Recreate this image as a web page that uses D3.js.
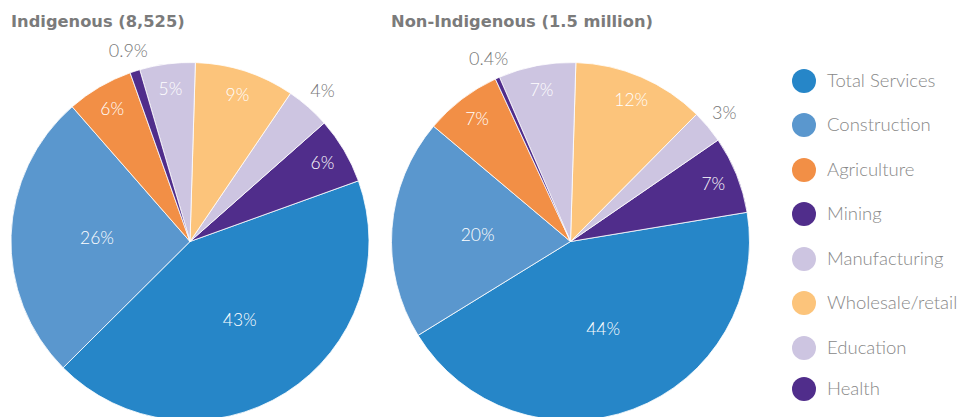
<!DOCTYPE html>
<html>
<head>
<meta charset="utf-8">
<script src="https://cdn.jsdelivr.net/npm/d3@7"></script>
<style>
  html, body { margin: 0; padding: 0; background: #fff; }
  svg { display: block; overflow: hidden; }
</style>
</head>
<body>
<div class="chart"></div>
<script>
const WIDTH = 959;
const HEIGHT = 417;
const RADIUS = 179;

// legend order
var categories = ["Total Services", "Construction", "Agriculture", "Mining",
                  "Manufacturing", "Wholesale/retail", "Education", "Health"];
var colors = ["#2686c8", "#5a97ce", "#f28f46", "#502d8b",
              "#cdc5e1", "#fcc47b", "#cdc5e1", "#502d8b"];

// order of slices clockwise from 12 o'clock
var sliceOrder = ["Wholesale/retail", "Manufacturing", "Mining", "Total Services",
                  "Construction", "Agriculture", "Health", "Education"];

var indigenous = [43, 26, 6, 6, 4, 9, 5, 0.9];
var nonIndigenous = [44, 20, 7, 7, 3, 12, 7, 0.4];

var titles = ["Indigenous (8,525)", "Non-Indigenous (1.5 million)"];

var translate = function (x, y) {
    return "translate(" + x + "," + y + ")";
};

var fmt = function (v) {
    return v < 1 ? v.toFixed(1) + "%" : Math.round(v) + "%";
};

var svg = d3.select('.chart').append('svg')
    .attr('width', WIDTH)
    .attr('height', HEIGHT);

var color = d3.scaleOrdinal().domain(categories).range(colors);

var pie = d3.pie()
    .sort(function (a, b) { return sliceOrder.indexOf(a.name) - sliceOrder.indexOf(b.name); })
    .value(function (d) { return d.value; })
    .startAngle(0.03)
    .endAngle(0.03 + 2 * Math.PI);

var arc = d3.arc().outerRadius(RADIUS).innerRadius(0);
var bigLabel = d3.arc().outerRadius(RADIUS * 0.52).innerRadius(RADIUS * 0.52);
var smallLabel = d3.arc().outerRadius(RADIUS * 0.86).innerRadius(RADIUS * 0.86);
var outLabel = d3.arc().outerRadius(RADIUS * 1.12).innerRadius(RADIUS * 1.12);

var drawPie = function (values, cx, title, titleX) {
    var data = categories.map(function (c, i) { return { name: c, value: values[i] }; });

    svg.append('text')
        .attr('x', titleX)
        .attr('y', 27)
        .style('font-family', '"DejaVu Sans", sans-serif')
        .style('font-weight', 700)
        .style('font-size', '16.3px')
        .style('fill', '#7b7b7b')
        .text(title);

    var g = svg.append('g').attr('transform', translate(cx, 241.5));

    var arcs = pie(data);

    g.selectAll('path')
        .data(arcs)
        .enter()
        .append('path')
        .attr('d', arc)
        .style('fill', function (d) { return color(d.data.name); })
        .style('stroke', '#fff')
        .style('stroke-width', 0.8);

    g.selectAll('text')
        .data(arcs)
        .enter()
        .append('text')
        .attr('transform', function (d) {
            var a = d.data.value < 5 ? outLabel : (d.data.value >= 15 ? bigLabel : smallLabel);
            var c = a.centroid(d);
            return translate(c[0], c[1]);
        })
        .attr('text-anchor', 'middle')
        .attr('dy', '0.35em')
        .style('font-family', 'Lato, sans-serif')
        .style('font-weight', 300)
        .style('font-size', function (d) { return d.data.value < 5 ? '18px' : '17.5px'; })
        .style('fill', function (d) { return d.data.value < 5 ? '#767676' : '#fff'; })
        .text(function (d) { return fmt(d.data.value); });
};

drawPie(indigenous, 190, titles[0], 11);
drawPie(nonIndigenous, 570.5, titles[1], 391);

// legend
var legendY = [81, 125, 170, 214, 259, 303, 348, 389];
var legend = svg.append('g');

var item = legend.selectAll('g')
    .data(categories)
    .enter()
    .append('g')
    .attr('transform', function (d, i) { return translate(804, legendY[i]); });

item.append('circle')
    .attr('r', 12)
    .style('fill', function (d) { return color(d); });

item.append('text')
    .attr('x', 23)
    .attr('dy', '0.35em')
    .style('font-family', 'Lato, sans-serif')
    .style('font-weight', 300)
    .style('font-size', '18.5px')
    .style('fill', '#888')
    .text(function (d) { return d; });
</script>
</body>
</html>
